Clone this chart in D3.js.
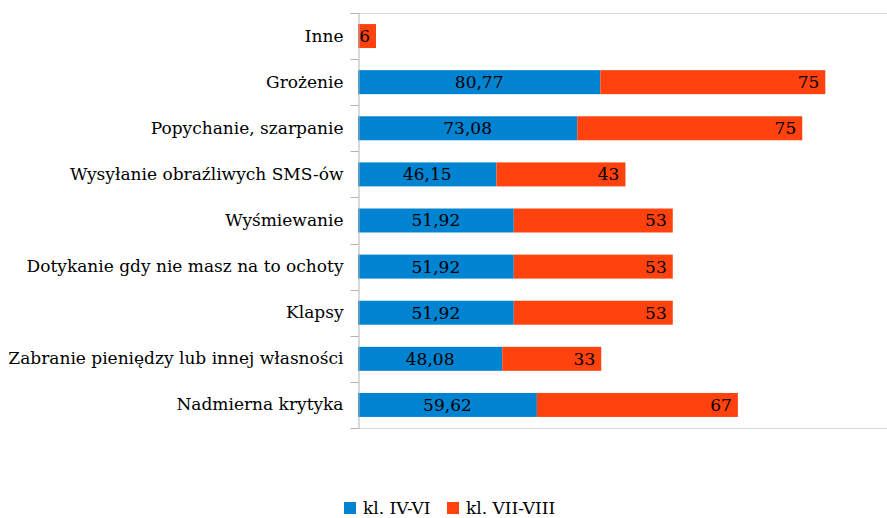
<!DOCTYPE html>
<html>
<head>
<meta charset="utf-8">
<script src="https://cdn.jsdelivr.net/npm/d3@7"></script>
<style>
  body { margin: 0; background: #fff; }
  text { font-family: "DejaVu Serif", serif; font-size: 17px; fill: #000; }
</style>
</head>
<body>
<script>
var w = 887;
var h = 518;

// data
var categories = ["Inne", "Grożenie", "Popychanie, szarpanie", "Wysyłanie obraźliwych SMS-ów",
  "Wyśmiewanie", "Dotykanie gdy nie masz na to ochoty", "Klapsy",
  "Zabranie pieniędzy lub innej własności", "Nadmierna krytyka"];
var seriesNames = ["kl. IV-VI", "kl. VII-VIII"];
var klIVVI = [0, 80.77, 73.08, 46.15, 51.92, 51.92, 51.92, 48.08, 59.62];
var klVIIVIII = [6, 75, 75, 43, 53, 53, 53, 33, 67];
var colors = ["#0083d1", "#ff420e"];

var svg = d3.select("body").append("svg")
  .attr("width", w)
  .attr("height", h);

var x = d3.scaleLinear()
  .domain([0, 180])
  .range([358, 898]);

var y = d3.scaleBand()
  .domain(categories)
  .range([13, 428])
  .paddingInner(0.48)
  .paddingOuter(0.24);

// stacked rows
var rows = categories.map(function(c, i) {
  return { cat: c, a: klIVVI[i], b: klVIIVIII[i] };
});
var stack = d3.stack().keys(["a", "b"])(rows);

// frame lines top and bottom
svg.selectAll(".frame")
  .data([13, 428])
  .enter().append("line")
  .attr("x1", 350).attr("x2", w)
  .attr("y1", function(d) { return d + 0.5; })
  .attr("y2", function(d) { return d + 0.5; })
  .attr("stroke", "#d9d9d9")
  .attr("stroke-width", 1);

var layers = svg.selectAll(".layer")
  .data(stack)
  .enter().append("g")
  .attr("fill", function(d, i) { return colors[i]; });

layers.selectAll("rect")
  .data(function(d) { return d.filter(function(p) { return p[1] - p[0] > 0; }); })
  .enter().append("rect")
  .attr("x", function(d) { return x(d[0]); })
  .attr("width", function(d) { return x(d[1]) - x(d[0]); })
  .attr("y", function(d) { return y(d.data.cat); })
  .attr("height", y.bandwidth());

// labels: first series centered, second inside end
stack.forEach(function(layer, li) {
  svg.append("g").selectAll("text")
    .data(layer.filter(function(p) { return p[1] - p[0] > 0; }))
    .enter().append("text")
    .attr("x", function(d) {
      return li == 0 ? (x(d[0]) + x(d[1])) / 2 : x(d[1]) - 6;
    })
    .attr("y", function(d) { return y(d.data.cat) + y.bandwidth() / 2; })
    .attr("dy", "0.35em")
    .attr("text-anchor", li == 0 ? "middle" : "end")
    .text(function(d) {
      return li == 0 ? d3.format(".2f")(d.data.a).replace(".", ",") : d.data.b;
    });
});

// category axis
var axis = svg.append("g")
  .attr("transform", "translate(358.5,0)")
  .call(d3.axisLeft(y).tickSize(0).tickPadding(15));
axis.select(".domain").attr("stroke", "#b3b3b3");
axis.selectAll("text").style("font-size", "17px").style("font-family", "DejaVu Serif");

// tick marks at band boundaries
var bounds = categories.map(function(c) { return y(c) - y.step() * y.paddingInner() / 2; });
bounds.push(428);
axis.selectAll(".bound")
  .data(bounds)
  .enter().append("line")
  .attr("x1", -8).attr("x2", 0)
  .attr("y1", function(d) { return Math.round(d) + 0.5; })
  .attr("y2", function(d) { return Math.round(d) + 0.5; })
  .attr("stroke", "#b3b3b3");

// legend
var legend = svg.append("g").attr("transform", "translate(344,502)");
var lx = [0, 103];
seriesNames.forEach(function(s, i) {
  var g = legend.append("g").attr("transform", "translate(" + lx[i] + ",0)");
  g.append("rect").attr("width", 12).attr("height", 12).attr("fill", colors[i]);
  g.append("text").attr("x", 19).attr("y", 6).attr("dy", "0.35em").text(s);
});
</script>
</body>
</html>
